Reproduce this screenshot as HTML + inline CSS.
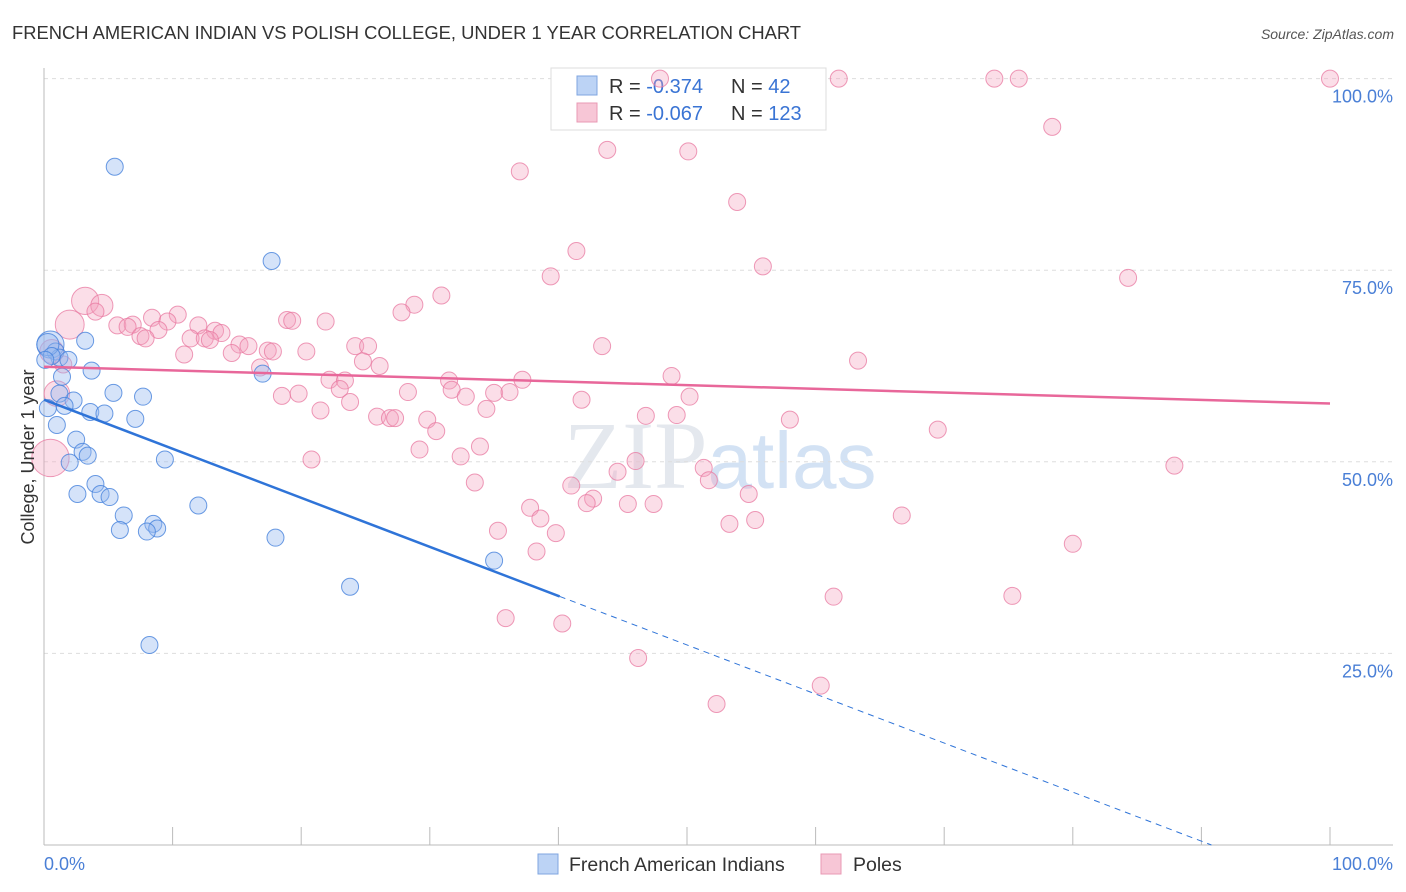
<!DOCTYPE html>
<html><head><meta charset="utf-8"><style>
body{margin:0;background:#fff;font-family:"Liberation Sans",sans-serif}
svg{display:block}
</style></head><body>
<svg id="chart" width="1406" height="892" xmlns="http://www.w3.org/2000/svg">
<text x="12" y="39" font-size="18" fill="#333" textLength="789" lengthAdjust="spacingAndGlyphs">FRENCH AMERICAN INDIAN VS POLISH COLLEGE, UNDER 1 YEAR CORRELATION CHART</text>
<text x="1394" y="39" font-size="14" fill="#555" font-style="italic" text-anchor="end">Source: ZipAtlas.com</text>
<text x="720" y="488" font-size="96" fill="#e4e8ee" text-anchor="middle" font-family="Liberation Serif,serif">ZIP<tspan fill="#d3e2f4" font-family="Liberation Sans,sans-serif" font-size="80">atlas</tspan></text>
<g id="grid"></g>
<g>
<rect x="551" y="68" width="275" height="62" fill="#fff" stroke="#ddd"/>
<rect x="577" y="76" width="20" height="19" fill="#bcd3f5" stroke="#7fa6e0"/>
<rect x="577" y="103" width="20" height="19" fill="#f7c6d6" stroke="#e899b4"/>
<text x="609" y="93" font-size="20" fill="#333">R = <tspan fill="#3a74d4">-0.374</tspan><tspan x="731">N = </tspan><tspan fill="#3a74d4">42</tspan></text>
<text x="609" y="120" font-size="20" fill="#333">R = <tspan fill="#3a74d4">-0.067</tspan><tspan x="731">N = </tspan><tspan fill="#3a74d4">123</tspan></text>
</g>
<g id="pts"></g><g id="lines"></g>
<text transform="translate(34,457) rotate(-90)" font-size="18" fill="#333" text-anchor="middle">College, Under 1 year</text>
<text x="44" y="870" font-size="18" fill="#4a7fd6">0.0%</text>
<text x="1393" y="870" font-size="18" fill="#4a7fd6" text-anchor="end">100.0%</text>
<g>
<rect x="538" y="854" width="20" height="20" fill="#bcd3f5" stroke="#7fa6e0"/>
<text x="569" y="871" font-size="19.5" fill="#333">French American Indians</text>
<rect x="821" y="854" width="20" height="20" fill="#f7c6d6" stroke="#e899b4"/>
<text x="853" y="871" font-size="19.5" fill="#333">Poles</text>
</g>
</svg>
<script>
const yTicks=[25,50,75,100];
const xTicks=[0,10,20,30,40,50,60,70,80,90,100];
const blueX=[5.5,17.7,3.2,0.5,0.9,1.2,1.9,3.7,17.0,1.4,5.4,7.7,2.3,1.2,1.6,3.6,4.7,7.1,1.0,2.5,3.0,3.4,9.4,2.0,4.0,2.6,4.4,5.1,12.0,6.2,8.5,5.9,8.8,8.0,18.0,35.0,23.8,8.2,0.3,0.6,0.1,0.3];
const blueY=[88.5,76.2,65.8,65.3,64.4,63.6,63.3,61.9,61.5,61.1,59.0,58.5,58.0,58.9,57.3,56.5,56.3,55.6,54.8,52.9,51.3,50.8,50.3,49.9,47.1,45.8,45.8,45.4,44.3,43.0,41.9,41.1,41.3,40.9,40.1,37.1,33.7,26.1,65.3,63.8,63.3,57.0];
const pinkX=[47.9,61.8,73.9,75.8,100,78.4,43.8,50.1,37.0,53.9,41.4,55.9,39.4,84.3,30.9,3.2,28.8,4.5,4.0,27.8,10.4,8.4,18.9,19.3,21.9,2.0,9.6,5.7,6.9,12.0,6.5,8.9,13.3,13.8,7.5,7.9,11.4,12.5,12.9,15.2,15.9,24.2,25.2,43.4,14.6,17.4,17.8,20.4,10.9,24.8,26.1,63.3,16.8,48.8,22.2,23.4,31.5,37.2,23.0,31.7,35.0,36.2,18.5,19.8,28.3,32.8,41.8,50.2,23.8,21.5,34.4,25.9,26.9,27.3,29.8,46.8,49.2,58.0,30.5,69.5,29.2,33.9,20.8,32.4,46.0,87.9,51.3,44.6,51.7,33.5,41.0,54.8,42.7,42.2,45.4,47.4,37.8,66.7,38.6,53.3,55.3,35.3,39.8,80.0,38.3,61.4,75.3,35.9,40.3,46.2,60.4,52.3,0.5,1.0,0.6,1.5];
const pinkY=[100,100,100,100,100,93.7,90.7,90.5,87.9,83.9,77.5,75.5,74.2,74.0,71.7,71.0,70.5,70.4,69.6,69.5,69.2,68.8,68.5,68.4,68.3,67.9,68.3,67.8,67.9,67.8,67.6,67.2,67.1,66.8,66.4,66.1,66.1,66.1,65.9,65.3,65.1,65.1,65.1,65.1,64.2,64.5,64.4,64.4,64.0,63.1,62.5,63.2,62.3,61.2,60.7,60.6,60.6,60.7,59.5,59.4,59.0,59.1,58.6,58.9,59.1,58.5,58.1,58.5,57.8,56.7,56.9,55.9,55.7,55.7,55.5,56.0,56.1,55.5,54.0,54.2,51.6,52.0,50.3,50.7,50.1,49.5,49.2,48.7,47.6,47.3,46.9,45.8,45.2,44.6,44.5,44.5,44.0,43.0,42.6,41.9,42.4,41.0,40.7,39.3,38.3,32.4,32.5,29.6,28.9,24.4,20.8,18.4,50.5,58.9,64.4,62.7];
const pinkWeight={15:1.6,25:1.7,17:1.3,112:2.2,113:1.5,114:1.4};
const blueWeight={3:1.6,38:1.3};
const blueFit=[58.1,-0.64];
const pinkFit=[62.4,-0.048];
const NS='http://www.w3.org/2000/svg';
const X=v=>44+v*12.86, Y=v=>845-v*7.664;
function mk(tag,attrs,parent){const e=document.createElementNS(NS,tag);for(const k in attrs)e.setAttribute(k,attrs[k]);parent.appendChild(e);return e;}
const grid=document.getElementById('grid');
yTicks.forEach(t=>{
 const l=mk('line',{x1:44,x2:1393,y1:Y(t),y2:Y(t),stroke:'#ddd','stroke-dasharray':'4,4'},grid);
 
 
 const tx=mk('text',{x:1393,y:Y(t)+24,'font-size':18,fill:'#4a7fd6','text-anchor':'end'},grid);
 tx.textContent=t.toFixed(1)+'%';
 
 
});
const ax=mk('line',{x1:44,x2:44,y1:68,y2:845,stroke:'#bbb'},grid);


const bx=mk('line',{x1:44,x2:1393,y1:845,y2:845,stroke:'#bbb'},grid);


xTicks.forEach(t=>{
 const l=mk('line',{x1:X(t),x2:X(t),y1:827,y2:845,stroke:'#bbb'},grid);
 
 
});
const pts=document.getElementById('pts');
pinkX.forEach((v,i)=>{
 const c=mk('circle',{cx:X(v),cy:Y(pinkY[i]),r:8.5*(pinkWeight[i]||1),fill:'rgba(244,160,188,0.35)',stroke:'rgba(232,120,160,0.75)','stroke-width':1},pts);
 
 
});
blueX.forEach((v,i)=>{
 const c=mk('circle',{cx:X(v),cy:Y(blueY[i]),r:8.5*(blueWeight[i]||1),fill:'rgba(150,185,240,0.4)',stroke:'rgba(70,130,220,0.8)','stroke-width':1},pts);
 
 
});
const lines=document.getElementById('lines');
const f=(fit,x)=>fit[0]+fit[1]*x;
const pl=mk('line',{x1:X(0),y1:Y(f(pinkFit,0)),x2:X(100),y2:Y(f(pinkFit,100)),stroke:'#e8679a','stroke-width':2.5},lines);


const bl=mk('line',{x1:X(0),y1:Y(f(blueFit,0)),x2:X(40.1),y2:Y(f(blueFit,40.1)),stroke:'#2f74d8','stroke-width':2.5},lines);


const xe=-blueFit[0]/blueFit[1];
const bd=mk('line',{x1:X(40.1),y1:Y(f(blueFit,40.1)),x2:X(xe),y2:Y(0),stroke:'#2f74d8','stroke-width':1,'stroke-dasharray':'6,5'},lines);


</script>
</body></html>
